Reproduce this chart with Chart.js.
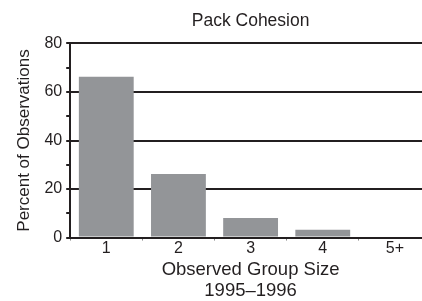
<!DOCTYPE html>
<html>
<head>
<meta charset="utf-8">
<script src="https://cdn.jsdelivr.net/npm/chart.js@4/dist/chart.umd.min.js"></script>
<style>
  html, body { margin: 0; padding: 0; background: #fff; overflow: hidden; }
  #wrap { position: absolute; left: 0; top: 0; width: 431px; height: 301px; }
</style>
</head>
<body>
<div id="wrap"><canvas id="chart"></canvas></div>
<script>
const groupSizes = ['1', '2', '3', '4', '5+'];
const percentObserved = [66.3, 26.2, 8.1, 3.2, 0];
const yTicksShown = [0, 20, 40, 60, 80];

const INK = '#231f20';
const FONT = "'Liberation Sans', Arial, Helvetica, sans-serif";

const ctx = document.getElementById('chart').getContext('2d');

new Chart(ctx, {
    type: 'bar',
    data: {
        labels: groupSizes,
        datasets: [{
            label: 'Percent of Observations',
            data: percentObserved,
            backgroundColor: '#939598',
            borderWidth: 0,
            barPercentage: 0.76,
            categoryPercentage: 1.0
        }]
    },
    options: {
        responsive: true,
        maintainAspectRatio: false,
        animation: false,
        layout: {
            padding: { left: 14, right: 0, top: 4, bottom: 0 }
        },
        scales: {
            x: {
                type: 'category',
                position: 'bottom',
                grid: {
                    display: true,
                    drawOnChartArea: false,
                    offset: true,
                    tickLength: 3,
                    tickColor: '#888'
                },
                border: { display: true, color: INK, width: 2 },
                ticks: {
                    color: INK,
                    padding: 0,
                    font: { family: FONT, size: 16, lineHeight: 1 }
                },
                title: {
                    display: true,
                    text: ['Observed Group Size', '1995\u20131996'],
                    color: INK,
                    font: { family: FONT, size: 18.5, lineHeight: 1.12 },
                    padding: { top: 3, bottom: 0 }
                }
            },
            // top axis only carries the chart title, so it centres over the plot area
            xTop: {
                type: 'category',
                position: 'top',
                labels: groupSizes,
                grid: { display: false },
                border: { display: false },
                ticks: { display: false },
                title: {
                    display: true,
                    text: 'Pack Cohesion',
                    color: INK,
                    font: { family: FONT, size: 17.5, lineHeight: 1.17 },
                    padding: { top: 7, bottom: 4 }
                }
            },
            y: {
                min: 0,
                max: 80,
                grid: {
                    color: function(context) {
                        return context.tick && context.tick.value % 20 === 0 ? INK : 'rgba(0,0,0,0)';
                    },
                    tickColor: INK,
                    lineWidth: 2,
                    tickLength: 4
                },
                border: { display: true, color: INK, width: 2 },
                ticks: {
                    stepSize: 10,
                    color: INK,
                    padding: 4,
                    font: { family: FONT, size: 16 },
                    callback: function(value) {
                        return yTicksShown.includes(value) ? value : '';
                    }
                },
                title: {
                    display: true,
                    text: 'Percent of Observations',
                    color: INK,
                    font: { family: FONT, size: 17 },
                    padding: { top: 0, bottom: 6 }
                }
            }
        },
        plugins: {
            legend: { display: false },
            tooltip: { enabled: false }
        }
    }
});
</script>
</body>
</html>
